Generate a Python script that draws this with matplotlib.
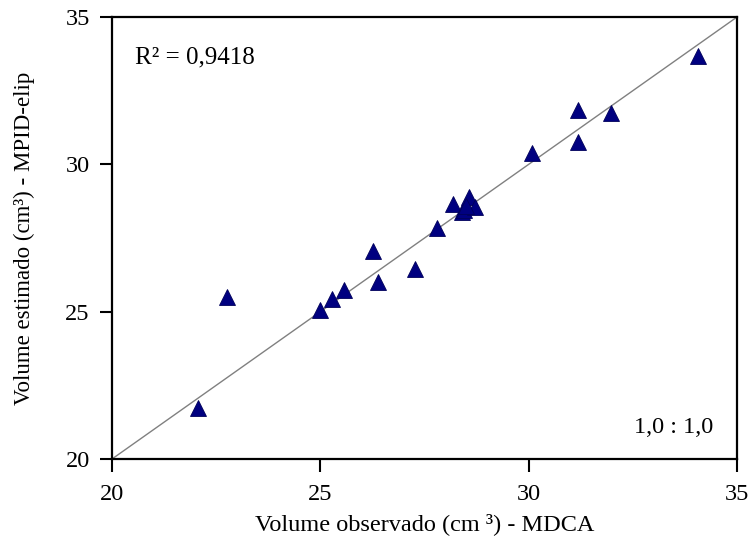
import numpy as np
import matplotlib
matplotlib.use('Agg')
import matplotlib.pyplot as plt

# observed (MDCA) vs estimated (MPID-elip) volumes, cm3
vol_obs = [22.06, 22.76, 24.99, 25.28, 25.57, 26.26, 26.38, 27.27, 27.80,
           28.18, 28.40, 28.45, 28.57, 28.71, 28.50, 30.08, 31.19, 31.19,
           31.98, 34.06]
vol_est = [21.73, 25.50, 25.06, 25.43, 25.73, 27.06, 26.00, 26.45, 27.84,
           28.65, 28.38, 28.45, 28.89, 28.55, 28.60, 30.38, 31.84, 30.76,
           31.74, 33.67]
r2_text = 'R² = 0,9418'
ratio_text = '1,0 : 1,0'
ticks = [20, 25, 30, 35]

plt.rcParams['font.family'] = ['Liberation Serif', 'DejaVu Serif']

fig = plt.figure(figsize=(7.5, 5.49), dpi=100)
ax = fig.add_axes([0.1493, 0.1639, 0.8334, 0.8051])

ax.plot([20, 35], [20, 35], color='#808080', lw=1.0, zorder=1)
ax.plot(vol_obs, vol_est, ls='none', marker='^', ms=11,
        mfc='#000080', mec='#00005a', mew=0.6, zorder=3)

ax.set_xlim(20, 35)
ax.set_ylim(20, 35)
ax.set_xticks(ticks)
ax.set_yticks(ticks)
ax.tick_params(direction='out', length=9, width=1.5, labelsize=17.5,
               colors='black')
ax.tick_params(axis='x', pad=9)
ax.tick_params(axis='y', pad=7)
for s in ax.spines.values():
    s.set_linewidth(1.6)

ax.text(0.037, 0.896, r2_text, transform=ax.transAxes, fontsize=18,
        va='baseline', ha='left')
ax.text(0.9616, 0.059, ratio_text, transform=ax.transAxes, fontsize=17.5,
        va='baseline', ha='right')

ax.set_xlabel('Volume observado (cm ³) - MDCA', fontsize=17.5, labelpad=6)
ax.set_ylabel('Volume estimado (cm³) - MPID-elip', fontsize=16.5, labelpad=22)

fig.savefig('out.png', dpi=100)
